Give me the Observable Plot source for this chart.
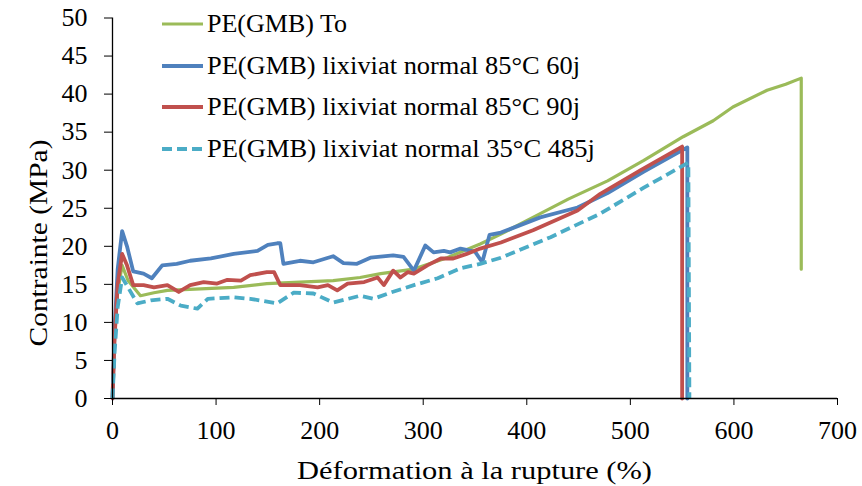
<!DOCTYPE html>
<html><head><meta charset="utf-8">
<script src="https://cdn.jsdelivr.net/npm/d3@7"></script>
<script src="https://cdn.jsdelivr.net/npm/@observablehq/plot@0.6"></script>
<style>body{margin:0;background:#fff;} svg text{font-family:'Liberation Serif','Times New Roman',serif !important;}</style>
</head><body><div id="chart"></div>
<script>
const seriesNames = ["PE(GMB) To","PE(GMB) lixiviat normal 85°C 60j","PE(GMB) lixiviat normal 85°C 90j","PE(GMB) lixiviat normal 35°C 485j"];
const seriesColors = ["#9BBB59","#4F81BD","#C0504D","#4BACC6"];

const toX = [0,2,5,9.3,15,27,40,53,85,117,149,181,213,239,259,291,323,355,375,406,440,478,513,551,580,599,632,650,665,665];
const toY = [0,8,14,17.5,15.5,13.5,13.9,14.2,14.4,14.6,15.1,15.3,15.5,15.9,16.4,17,18.5,20.3,21.6,23.8,26.2,28.6,31.3,34.4,36.5,38.3,40.5,41.3,42.1,17];

const b60X = [0,2,5,9.3,14,20,30,38,48,62,75,95,117,140,150,159,162,165,181,194,213,223,236,249,271,281,291,302,310,320,326,336,350,357,364,375,413,449,478,513,555,555];
const b60Y = [0,9,17,22,20,16.7,16.4,15.8,17.5,17.7,18.1,18.4,19,19.4,20.2,20.4,20.4,17.7,18.1,17.9,18.7,17.8,17.7,18.5,18.8,18.6,16.8,20.1,19.2,19.4,19.2,19.7,19.3,17.9,21.5,21.8,23.8,25.1,27,29.8,33,0];

const r90X = [0,2,5,9.3,14,20,30,40,53,64,75,88,101,111,124,133,149,156,162,181,198,208,217,227,243,256,262,271,278,285,291,304,317,329,342,355,375,406,449,471,510,550,550];
const r90Y = [0,8,15,19,17.5,14.9,14.9,14.6,14.9,14,14.9,15.3,15.1,15.6,15.5,16.2,16.6,16.6,14.9,14.9,14.6,14.9,14.2,15.1,15.3,15.9,14.9,16.8,15.9,16.6,16.4,17.5,18.4,18.4,19,19.7,20.5,22.1,24.7,26.9,30,33.1,0];

const c485X = [0,2,5,9.3,15,24,37,53,66,82,92,117,133,159,175,194,213,239,252,268,291,314,336,355,375,423,471,513,556,557];
const c485Y = [0,6,12,15.9,14.6,12.5,12.9,13.1,12.2,11.8,13.1,13.3,13.1,12.5,13.9,13.8,12.6,13.5,13.1,13.9,14.9,15.8,17.1,17.7,18.5,21.2,24.3,27.7,31,0];

const xTicks = [0,100,200,300,400,500,600,700];
const yTicks = [0,5,10,15,20,25,30,35,40,45,50];
const xTitle = "Déformation à la rupture (%)";
const yTitle = "Contrainte (MPa)";

const xsAll = [toX,b60X,r90X,c485X], ysAll = [toY,b60Y,r90Y,c485Y];
const rows = [];
xsAll.forEach((xs,i)=>xs.forEach((x,j)=>rows.push({s:seriesNames[i], x, y: ysAll[i][j]})));

const font = "'Liberation Serif', 'Times New Roman', serif";
const widths = [3.2,3.8,3.8,3.8];
const lineMarks = seriesNames.map((n,i)=>Plot.line(rows.filter(d=>d.s===n),{
  x:"x", y:"y", stroke: seriesColors[i], strokeWidth: widths[i],
  strokeDasharray: i===3 ? "10,5" : null, strokeLinejoin:"round", strokeLinecap: i===3?"butt":"round"
}));

const chart = Plot.plot({
  width: 862, height: 486,
  marginLeft: 112, marginRight: 25, marginTop: 17.5, marginBottom: 88,
  style: "font-family: 'Liberation Serif', 'Times New Roman', serif; background: #fff; color: #000;",
  x: {domain:[0,700]},
  y: {domain:[0,50]},
  marks: [
    ...lineMarks,
    Plot.ruleY([0],{stroke:"#000", strokeWidth:1.3}),
    Plot.ruleX([0],{stroke:"#000", strokeWidth:1.3}),
    Plot.axisX({ticks: xTicks, tickSize: 7, tickPadding: 15, fontSize: 26, label: null}),
    Plot.axisY({ticks: yTicks, tickSize: 8, tickPadding: 17, fontSize: 26, label: null})
  ]
});
document.getElementById("chart").appendChild(chart);

const svg = d3.select(chart);
svg.selectAll("text").attr("font-family", font).attr("stroke", null).attr("fill", "#000");
svg.append("text").attr("transform","translate(47,243) rotate(-90)")
  .attr("text-anchor","middle").attr("font-family",font).attr("font-size",25).attr("fill","#000")
  .attr("textLength",207).attr("lengthAdjust","spacingAndGlyphs")
  .text(yTitle);
svg.append("text").attr("x",474.5).attr("y",479)
  .attr("text-anchor","middle").attr("font-family",font).attr("font-size",25).attr("fill","#000")
  .attr("textLength",355).attr("lengthAdjust","spacingAndGlyphs")
  .text(xTitle);

const lg = svg.append("g");
const legY = [24,66,107,149];
const legW = [140,373,373,388];
seriesNames.forEach((n,i)=>{
  lg.append("line").attr("x1",162).attr("x2",203).attr("y1",legY[i]).attr("y2",legY[i])
    .attr("stroke",seriesColors[i]).attr("stroke-width",widths[i])
    .attr("stroke-dasharray", i===3 ? "10,5" : null);
  lg.append("text").attr("x",207).attr("y",legY[i]+8).attr("font-family",font).attr("font-size",25)
    .attr("text-anchor","start").attr("fill","#000")
    .attr("textLength",legW[i]).attr("lengthAdjust","spacingAndGlyphs")
    .text(n);
});
</script></body></html>
